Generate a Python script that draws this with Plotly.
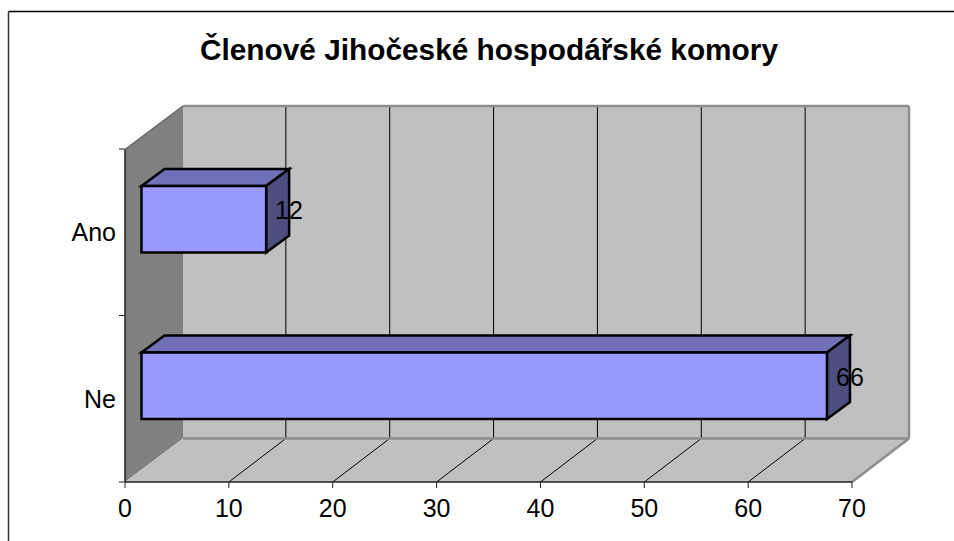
import plotly.graph_objects as go

categories = ["Ne", "Ano"]
values = [66, 12]
labels = ["66", "12"]
x_ticks = [0, 10, 20, 30, 40, 50, 60, 70]
title = "Členové Jihočeské hospodářské komory"

W, H = 954, 541
L, R, T, B = 125, 909, 106, 482   # plot-area pixel box
X_PX = 727 / 70                   # px per value unit
CAT_PX = 166.5                    # px per category
DX = 58 / X_PX                    # wall depth, data units
DY = 43.5 / CAT_PX
GDX = 57 / X_PX                   # gridline depth
BDX = 23 / X_PX                   # bar depth
BDY = 17 / CAT_PX
OX = 16.5 / X_PX                  # bar front offset from the front plane
OY = 13 / CAT_PX
BAR_H = 0.4
XMAX = (R - L) / X_PX
YMIN, YMAX = -0.5, -0.5 + (B - T) / CAT_PX
FONT = "Liberation Sans, Arial, sans-serif"


def fx(v):
    return v / XMAX


def fy(v):
    return (v - YMIN) / (YMAX - YMIN)


def poly(pts, fill=None, line=None, width=0):
    path = "M" + " L".join(f"{fx(x):.5f},{fy(y):.5f}" for x, y in pts) + " Z"
    return dict(type="path", path=path, xref="paper", yref="paper", fillcolor=fill or "rgba(0,0,0,0)",
                line=dict(color=line or "rgba(0,0,0,0)", width=width), layer="above")


def seg(x0, y0, x1, y1, color="#000000", width=1):
    return dict(type="line", x0=fx(x0), y0=fy(y0), x1=fx(x1), y1=fy(y1), xref="paper", yref="paper",
                line=dict(color=color, width=width), layer="above")


def pxs(px, py):
    """page pixel position to data units"""
    return (px - L) / X_PX, YMIN + (B - py) / CAT_PX


shapes = []
# back wall, side wall, floor
shapes.append(poly([(DX, YMIN + DY), (XMAX, YMIN + DY), (XMAX, YMAX), (DX, YMAX)], "#C0C0C0"))
shapes.append(poly([(0, YMIN), (DX, YMIN + DY), (DX, YMAX), (0, YMAX - DY)], "#808080"))
shapes.append(poly([(0, YMIN), (70, YMIN), (XMAX, YMIN + DY), (DX, YMIN + DY)], "#C0C0C0"))
# gridlines on wall and floor
for t in x_ticks[1:-1]:
    shapes.append(seg(t + GDX, YMIN + DY, t + GDX, YMAX))
    shapes.append(seg(t, YMIN, t + GDX, YMIN + DY))
# grey outlines of wall and floor
GREY = "#8C8C8C"
shapes.append(seg(DX, YMAX, XMAX, YMAX, GREY, 2.5))
shapes.append(seg(XMAX, YMAX, XMAX, YMIN + DY, GREY, 2.5))
shapes.append(seg(DX, YMIN + DY, XMAX, YMIN + DY, GREY, 2.5))
shapes.append(seg(XMAX, YMIN + DY, 70, YMIN, GREY, 2.5))
shapes.append(seg(0, YMAX - DY, DX, YMAX, "#666666", 1.5))
# front axes and ticks
AX = "#222222"
shapes.append(seg(0, YMIN, 0, YMAX - DY, AX, 1.5))
shapes.append(seg(0, YMIN, 70, YMIN, AX, 1.5))
for t in x_ticks:
    shapes.append(seg(t, YMIN, t, YMIN - 6 / CAT_PX, AX, 1))
for k in range(len(categories) + 1):
    shapes.append(seg(0, YMIN + k, -6 / X_PX, YMIN + k, AX, 1))
# bars
for i, v in enumerate(values):
    x0, x1 = OX, OX + v
    y0, y1 = i + OY - BAR_H / 2, i + OY + BAR_H / 2
    shapes.append(poly([(x0, y1), (x1, y1), (x1 + BDX, y1 + BDY), (x0 + BDX, y1 + BDY)], "#7070B8", "#000000", 2.5))
    shapes.append(poly([(x1, y0), (x1 + BDX, y0 + BDY), (x1 + BDX, y1 + BDY), (x1, y1)], "#4D4D80", "#000000", 2.5))
    shapes.append(poly([(x0, y0), (x1, y0), (x1, y1), (x0, y1)], "#9999FF", "#000000", 2.5))

annotations = [
    dict(x=OX + v + BDX, y=i + OY + 9 / CAT_PX, text=lab, showarrow=False,
         xref="x", yref="y", xanchor="center", yanchor="middle",
         font=dict(family=FONT, size=25, color="#000000"))
    for i, (v, lab) in enumerate(zip(values, labels))
]
annotations.append(dict(x=(488.5 - L) / (R - L), y=(B - 50) / (B - T), xref="paper", yref="paper",
                        text=f"<b>{title}</b>", showarrow=False, xanchor="center", yanchor="middle",
                        font=dict(family=FONT, size=29.8, color="#000000")))

# outer chart frame (top and left edges only, in page pixels)
fl_x, ft_y = pxs(8.5, 11.5)
fr_x, _ = pxs(W, 0)
_, fb_y = pxs(0, H)
frame = [
    seg(fl_x, ft_y, fr_x, ft_y, "#000000", 1.5),
    seg(fl_x, ft_y, fl_x, fb_y, "#333333", 1.5),
]

fig = go.Figure(go.Scatter(x=values, y=[0, 1], mode="markers", marker=dict(opacity=0), hoverinfo="skip", showlegend=False))
fig.update_layout(
    width=W, height=H, paper_bgcolor="#FFFFFF", plot_bgcolor="#FFFFFF",
    margin=dict(l=L, r=W - R, t=T, b=H - B, autoexpand=False),
    shapes=shapes + frame, annotations=annotations, showlegend=False,
    font=dict(family=FONT, size=25, color="#000000"),
    xaxis=dict(range=[0, XMAX], tickmode="array", tickvals=x_ticks, ticktext=[str(t) for t in x_ticks],
               showgrid=False, zeroline=False, showline=False, ticks="outside", ticklen=4,
               tickcolor="rgba(0,0,0,0)", tickfont=dict(family=FONT, size=25)),
    yaxis=dict(range=[YMIN, YMAX], tickmode="array", tickvals=[0, 1], ticktext=categories,
               showgrid=False, zeroline=False, showline=False, ticks="outside", ticklen=3,
               tickcolor="rgba(0,0,0,0)", tickfont=dict(family=FONT, size=25)),
)
fig.write_html("out.html", post_script="document.body.style.margin='0';", config={"displayModeBar": False})
